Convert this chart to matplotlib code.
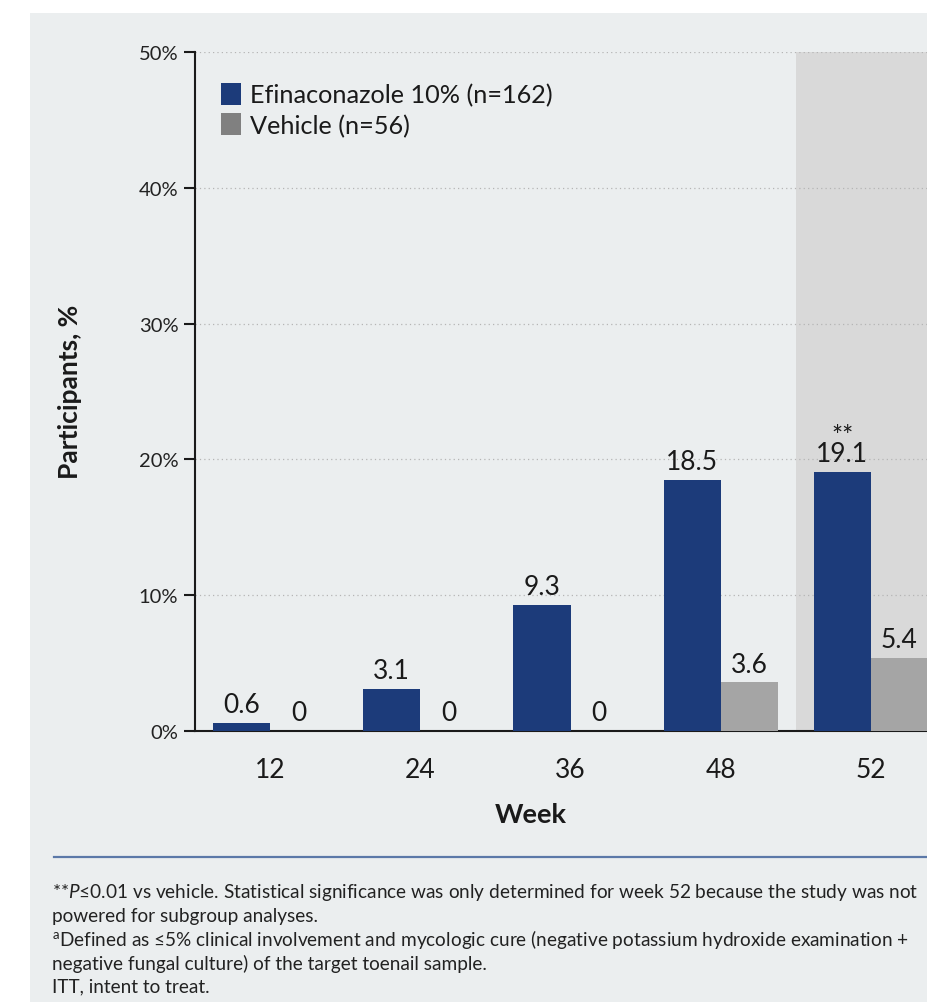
import numpy as np
import matplotlib
matplotlib.use('Agg')
import matplotlib.pyplot as plt
from matplotlib.patches import Rectangle, Patch
from matplotlib.lines import Line2D

plt.rcParams['font.family'] = ['Lato', 'DejaVu Sans']
plt.rcParams['mathtext.fontset'] = 'custom'
plt.rcParams['mathtext.rm'] = 'Lato'
plt.rcParams['mathtext.it'] = 'Lato:italic'

# Complete cure rate by visit week
weeks = ['12', '24', '36', '48', '52']
efinaconazole = [0.6, 3.1, 9.3, 18.5, 19.1]
vehicle = [0, 0, 0, 3.6, 5.4]
significance = ['', '', '', '', '**']
y_ticks = [0, 10, 20, 30, 40, 50]
y_tick_labels = ['0%', '10%', '20%', '30%', '40%', '50%']
legend_labels = ['Efinaconazole 10% (n=162)', 'Vehicle (n=56)']
footnotes = [
    r'**$\mathit{P}$≤0.01 vs vehicle. Statistical significance was only determined for week 52 because the study was not',
    'powered for subgroup analyses.',
    r'$^{\mathrm{a}}$Defined as ≤5% clinical involvement and mycologic cure (negative potassium hydroxide examination +',
    'negative fungal culture) of the target toenail sample.',
    'ITT, intent to treat.',
]

navy = '#1c3b7a'
bar_gray = '#a5a5a5'
legend_gray = '#808080'
shade = '#d9d9d9'
panel = '#ebeeef'
ink = '#1a1a1a'

W, H = 927, 1003
fig = plt.figure(figsize=(W / 100, H / 100), dpi=100)
fig.patch.set_facecolor('white')
fig.add_artist(Rectangle((30 / W, 0), 1, (H - 14) / H, transform=fig.transFigure,
                         facecolor=panel, edgecolor='none', zorder=-10))

ax = fig.add_axes([195 / W, 1 - 732 / H, (946 - 195) / W, (732 - 53) / H])
ax.set_facecolor('none')

x = np.arange(len(weeks))
w = 0.38
ax.axvspan(3.5, 4.5, color=shade, zorder=0, lw=0)
ax.bar(x - w / 2, efinaconazole, w, color=navy, zorder=3)
ax.bar(x + w / 2, vehicle, w, color=bar_gray, zorder=3)

# value labels above each bar, significance stars stacked over the value
for xi, v, s in zip(x, efinaconazole, significance):
    label = f'{s}\n{v:g}' if s else f'{v:g}'
    ax.annotate(label, (xi - w / 2, v), xytext=(0, 4), textcoords='offset points',
                ha='center', va='bottom', multialignment='center', linespacing=0.62,
                fontsize=19, color=ink)
for xi, v in zip(x, vehicle):
    ax.annotate(f'{v:g}', (xi + w / 2, v), xytext=(0, 4), textcoords='offset points',
                ha='center', va='bottom', fontsize=19, color=ink)

ax.set_xlim(-0.5, 4.5)
ax.set_ylim(0, 50)
ax.set_xticks(x)
ax.set_xticklabels(weeks, fontsize=19, color=ink)
ax.set_yticks(y_ticks)
ax.set_yticklabels(y_tick_labels, fontsize=14.5, color='#222222')
ax.tick_params(axis='x', length=0, pad=19)
ax.tick_params(axis='y', length=8, width=1.5, pad=4, color=ink)

ax.set_axisbelow(True)
ax.yaxis.grid(True, linestyle=(0, (1, 2.5)), color='#b5b5b5', lw=0.9)
for side in ['top', 'right']:
    ax.spines[side].set_visible(False)
for side in ['left', 'bottom']:
    ax.spines[side].set_color(ink)
    ax.spines[side].set_linewidth(1.5)

handles = [Patch(facecolor=navy), Patch(facecolor=legend_gray)]
ax.legend(handles, legend_labels, loc='upper left', bbox_to_anchor=(0.035, 0.955),
          frameon=False, fontsize=18.2, handlelength=0.78, handleheight=1.0,
          handletextpad=0.35, labelspacing=0.25, borderaxespad=0, borderpad=0,
          labelcolor=ink)

fig.text(70 / W, 1 - 392 / H, 'Participants, %', rotation=90, fontsize=19,
         fontweight='bold', ha='center', va='center', color=ink)
fig.text(531 / W, 1 - 815 / H, 'Week', fontsize=19.5, fontweight='bold',
         ha='center', va='center', color=ink)

fig.add_artist(Line2D([54 / W, 1], [1 - 858 / H] * 2, transform=fig.transFigure,
                      color='#5b78a8', lw=1.6))

for i, line in enumerate(footnotes):
    fig.text(52 / W, 1 - (893 + 23.5 * i) / H, line, fontsize=13.7,
             ha='left', va='center', color='#222222')

fig.savefig('out.png', dpi=100, facecolor=fig.get_facecolor())
